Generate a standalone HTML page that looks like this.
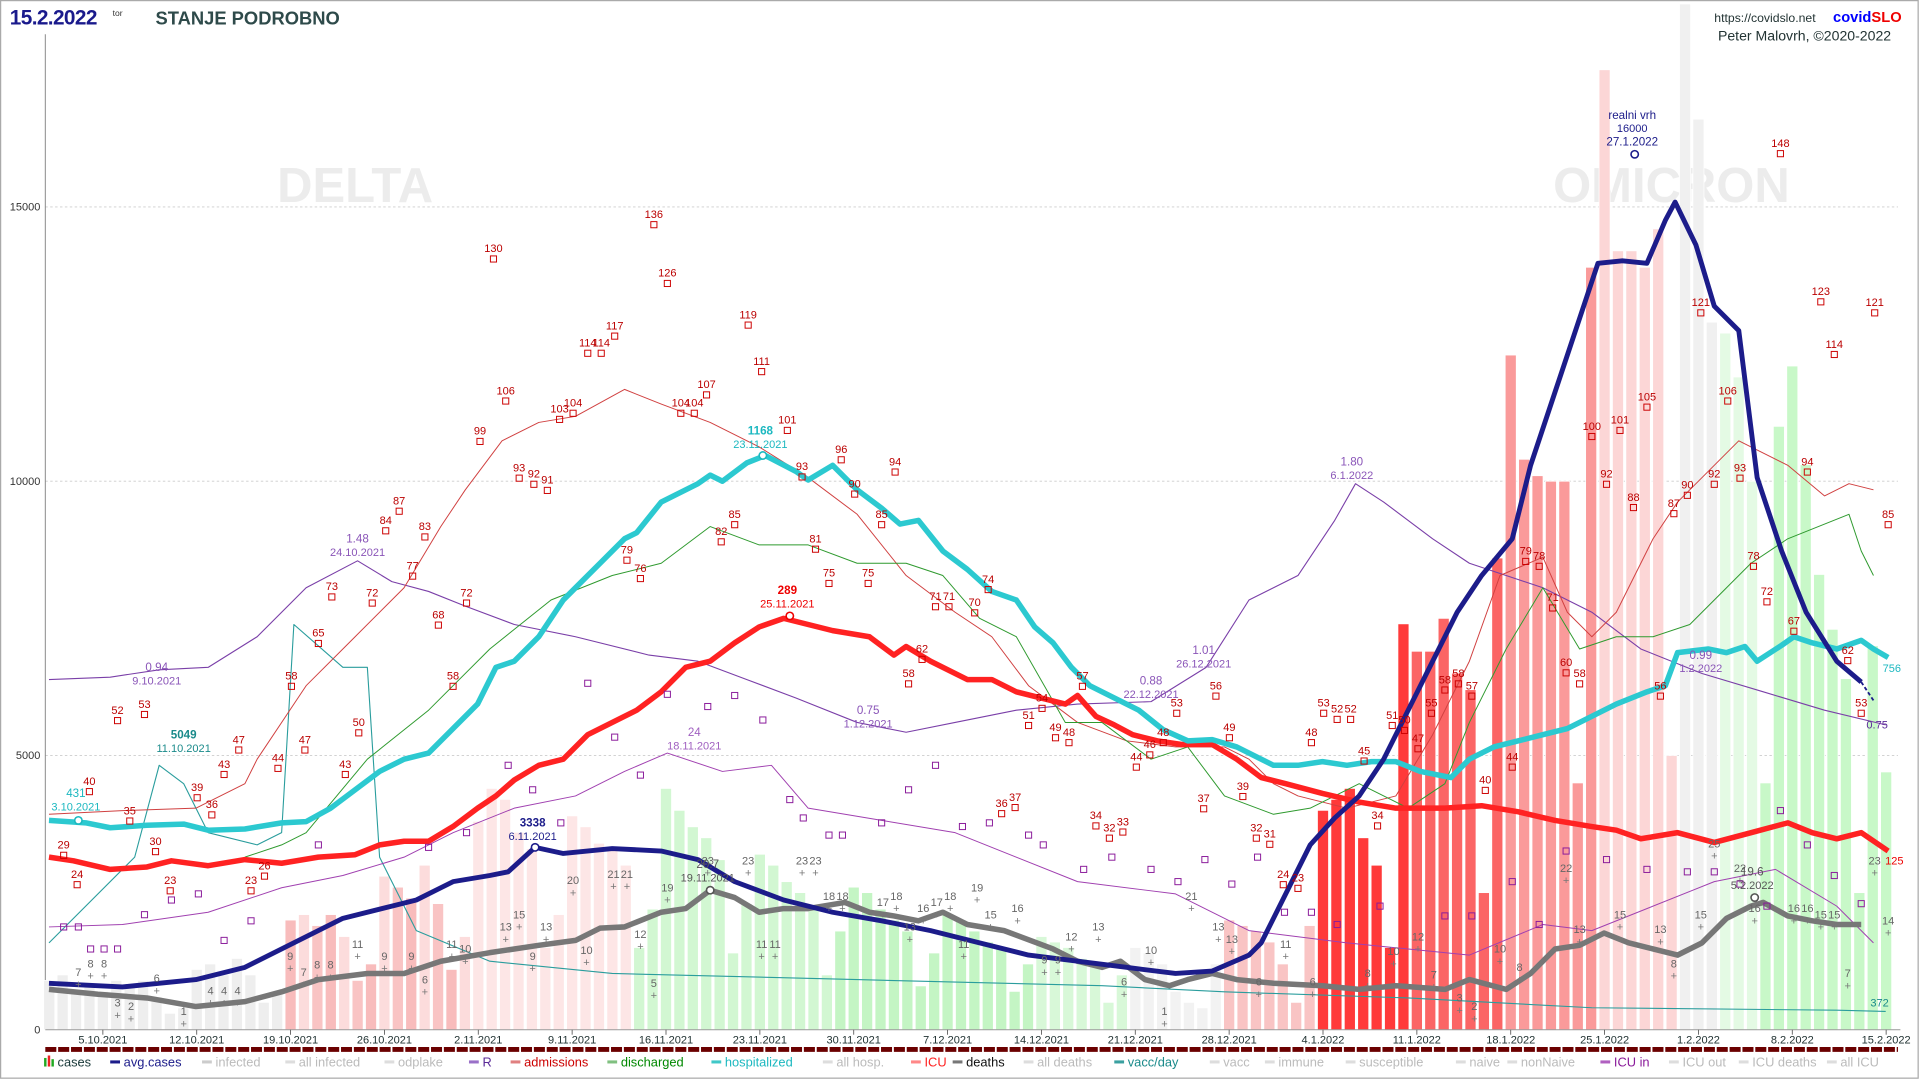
<!DOCTYPE html>
<html><head><meta charset="utf-8"><style>
html,body{margin:0;padding:0;background:#fff;width:1920px;height:1080px;overflow:hidden}
svg{display:block}
text{font-family:"Liberation Sans",sans-serif}
</style></head><body>
<svg id="c" width="1920" height="1080" viewBox="0 0 1568 882" preserveAspectRatio="none" xmlns="http://www.w3.org/2000/svg">
<rect x="0.5" y="0.5" width="1566" height="880" fill="#fff" stroke="#aaa"/>
<text x="290" y="165" font-size="40" font-weight="bold" fill="#ececec" text-anchor="middle">DELTA</text>
<text x="1365" y="165" font-size="40" font-weight="bold" fill="#ececec" text-anchor="middle">OMICRON</text>
<g id="grid" stroke="#ccc" stroke-dasharray="2,2" stroke-width="0.7">
<line x1="37" y1="169" x2="1550" y2="169"/><line x1="37" y1="393" x2="1550" y2="393"/><line x1="37" y1="617" x2="1550" y2="617"/>
</g>
<g font-size="9" fill="#333" text-anchor="end">
<text x="33" y="172">15000</text><text x="33" y="396">10000</text><text x="33" y="620">5000</text><text x="33" y="844">0</text>
</g>
<line x1="37" y1="28" x2="37" y2="841" stroke="#888" stroke-width="0.8"/>
<g id="bars"></g>
<g id="lines"></g>
<g id="marks"></g>
<line x1="37" y1="841" x2="1552" y2="841" stroke="#999" stroke-width="0.8"/>
<g id="dates" font-size="9" fill="#233" text-anchor="middle"></g>
<line x1="37" y1="857" x2="1550" y2="857" stroke="#6b0000" stroke-width="4" stroke-dasharray="9,1.5"/>
<g id="legend" font-size="10.5"></g>
<text x="8" y="20" font-size="17" font-weight="bold" fill="#1a1a8c" letter-spacing="-0.5">15.2.2022</text>
<text x="92" y="13" font-size="7" fill="#333">tor</text>
<text x="127" y="20" font-size="15" font-weight="bold" fill="#2e4a4a">STANJE PODROBNO</text>
<text x="1400" y="18" font-size="10" fill="#233">https://covidslo.net</text>
<text x="1497" y="18" font-size="12" font-weight="bold" fill="#00f">covid<tspan fill="#e00">SLO</tspan></text>
<text x="1403" y="33" font-size="11.5" fill="#233">Peter Malovrh, ©2020-2022</text>
</svg>
<script>
const NS="http://www.w3.org/2000/svg";
function el(p,t,a,txt){const e=document.createElementNS(NS,t);for(const k in a)e.setAttribute(k,a[k]);if(txt!==undefined)e.textContent=txt;document.getElementById(p).appendChild(e);return e;}
const X=d=>84+d*10.95, Y=c=>841-c*0.0448;
const cases=[900,1000,700,800, 700,900,800,900,600,300,400, 1100,1200,1000,1300,1000,500,700, 2000,2100,1900,2100,1700,900,1200, 2800,2600,2400,3000,2300,1100,1700, 3800,4400,4200,3600,3300,1500,2100, 3900,3700,3400,3300,3000,1500,2200, 4400,4000,3700,3500,3100,1400,2300, 3200,3000,2700,2500,2200,1000,1800, 2600,2500,2200,2000,1800,800,1400, 2100,2000,1800,1600,1500,700,1200, 1700,1600,1500,1300,1200,500,1000, 1500,1400,1200,700,500,400,1200, 2000,1900,1800,1600,1200,500,1900, 4000,4200,4400,3500,3000,1500,7400, 6900,6900,7500,6500,6200,2500,8600, 12300,10400,10100,10000,10000,4500,13900, 17500,14200,14200,13900,14600,5000,18700, 16600,12900,12700,11900,10000,4500,11000, 12100,10300,8300,7300,6400,2500,7000, 4700];
function col(d){
 if(d<14)return"#eeeeee";
 if(d<28)return["#fcdcdc","#f9c4c4","#f8bcbc"][d%3];
 if(d<40)return"#fde6e6";
 if(d<70)return d<55?"#d2f7d2":"#c4f5c4";
 if(d<84)return d<77?"#d8f8d8":"#f2f2f2";
 if(d<91)return"#f9c4c4";
 if(d<98)return"#ff3a3a";
 if(d<105)return"#fb6565";
 if(d<112)return"#fa9a9a";
 if(d<118)return"#fcd6d6";
 if(d<121)return"#f0f0f0";
 if(d<124)return"#e4fae4";
 return"#c8f8c8";}
cases.forEach((c,i)=>{const d=i-4;const y=Y(c);el("bars","rect",{x:X(d)-4.5,y:Math.max(y,0),width:9,height:841-Math.max(y,0),fill:col(d),stroke:"#fff","stroke-width":0.6});});
function line(pts,stroke,w,extra){let s="";for(let i=0;i<pts.length;i+=2)s+=(i?"L":"M")+pts[i+1]+","+pts[i];el("lines","path",Object.assign({d:s,fill:"none",stroke:stroke,"stroke-width":w,"stroke-linejoin":"round"},extra||{}));}
function L(arr,stroke,w,extra){const p=[];for(let i=0;i<arr.length;i+=2){p.push(arr[i],arr[i+1]);}line(p,stroke,w,extra);}
L([770,40,700,110,625,130,640,150,680,170,690,210,680,230,510,240,545,280,545,300,700,310,760,340,785,400,795,500,800,700,805,900,810,1000,815,1150,823,1300,825,1500,826,1540],"#2a9d9d",0.9);
L([757,40,755,100,745,170,725,230,715,280,700,330,680,370,660,420,650,470,630,510,615,545,630,590,625,630,660,660,670,720,680,780,700,830,720,880,730,960,760,1020,770,1100,780,1200,755,1260,760,1300,720,1400,710,1450,740,1500,770,1530],"#a040b0",0.8);
L([555,40,553,90,547,130,545,170,520,210,480,250,458,292,475,320,483,350,495,380,510,420,520,470,535,530,540,570,555,610,570,650,590,700,598,740,590,780,580,830,575,880,573,940,545,985,490,1020,470,1060,425,1090,395,1107,410,1130,440,1170,460,1200,480,1260,500,1300,530,1340,550,1390,565,1440,580,1490,592,1540],"#7a3fa8",0.9);
L([665,40,662,100,660,160,640,200,620,210,560,250,520,290,480,330,430,360,400,380,360,410,345,440,340,470,318,510,330,540,345,580,365,620,390,660,420,700,470,740,500,780,520,810,560,840,590,880,605,920,610,960,610,1000,620,1020,640,1040,650,1060,660,1100,650,1140,600,1170,540,1200,470,1225,455,1260,500,1280,520,1300,500,1320,440,1350,410,1370,390,1390,360,1420,380,1460,405,1490,395,1510,400,1530],"#d04040",0.8);
L([700,200,690,230,680,250,620,300,580,350,530,400,490,450,470,500,460,540,430,580,445,620,445,660,460,700,460,740,470,770,505,800,520,830,590,870,590,900,620,940,610,970,650,1000,665,1040,660,1070,640,1110,660,1150,640,1180,590,1200,530,1230,480,1260,530,1290,520,1320,520,1350,510,1380,480,1410,460,1430,440,1460,420,1510,450,1520,470,1530],"#2f9a2f",0.8);
L([808,40,812,80,815,120,822,160,818,200,810,230,800,260,795,300,795,330,785,360,778,400,772,440,768,470,758,490,757,510,745,540,742,560,727,580,733,600,745,620,742,640,742,660,737,690,745,710,748,730,752,750,745,770,755,790,760,820,775,860,785,880,790,900,785,915,800,935,805,955,800,970,795,990,800,1010,803,1040,805,1080,808,1110,805,1140,808,1180,800,1200,808,1230,795,1250,775,1270,772,1290,762,1310,770,1330,775,1350,780,1370,770,1390,750,1410,740,1430,737,1440,748,1460,752,1480,755,1500,755,1520],"#777",4.5);
L([700,40,703,60,710,90,708,120,703,140,707,170,702,200,705,230,700,260,698,290,690,310,687,330,687,350,675,370,660,390,650,405,637,420,625,440,620,460,600,480,590,500,580,520,565,540,545,560,540,580,525,600,512,620,505,640,510,660,515,680,520,710,535,730,528,740,540,760,555,790,555,810,565,830,570,850,575,870,568,880,585,895,592,910,600,925,605,945,608,965,608,990,620,1010,635,1030,640,1050,648,1080,655,1110,660,1140,660,1180,658,1210,663,1240,670,1270,675,1300,678,1320,685,1340,680,1370,688,1400,680,1430,672,1460,680,1480,685,1500,680,1520,695,1542],"#f22",4.5);
L([670,40,672,70,676,90,674,120,673,150,678,170,677,200,672,230,671,250,660,270,645,290,630,310,620,330,615,350,595,370,575,390,545,405,540,420,520,440,490,460,480,470,460,490,440,510,435,520,410,540,400,560,395,570,388,580,393,590,378,610,372,625,385,650,392,660,380,680,400,700,415,720,428,735,425,750,450,770,465,790,483,810,490,830,512,845,525,860,545,875,560,890,570,910,580,930,596,950,605,970,604,990,610,1010,625,1040,625,1060,622,1080,625,1100,622,1120,622,1140,630,1160,635,1185,620,1200,610,1220,605,1240,600,1260,595,1280,585,1300,575,1320,565,1345,560,1360,533,1370,530,1395,533,1410,528,1425,540,1435,527,1455,520,1465,525,1480,530,1500,523,1520,530,1530,537,1542],"#2cc9d0",4.5);
L([803,40,806,100,800,160,790,200,770,240,750,280,740,320,735,340,720,370,715,400,712,415,692,437,697,460,693,500,695,540,702,570,720,600,735,640,745,680,752,720,760,760,770,800,780,840,785,880,790,920,795,960,793,990,780,1020,770,1030,730,1050,690,1070,668,1090,650,1110,620,1130,580,1150,540,1170,500,1190,470,1210,440,1235,380,1250,320,1270,260,1290,215,1305,213,1325,215,1345,180,1360,165,1368,200,1385,250,1400,270,1420,390,1435,450,1455,500,1475,540,1500,557,1520],"#1c1c8a",4);
L([557,1520,572,1530],"#1c1c8a",1.5,{"stroke-dasharray":"3,2"});
const adm=[[52,693,"29"],[63,717,"24"],[73,641,"40"],[96,583,"52"],[118,578,"53"],[106,665,"35"],[127,690,"30"],[139,722,"23"],[161,646,"39"],[173,660,"36"],[183,627,"43"],[195,607,"47"],[205,722,"23"],[216,710,"26"],[227,622,"44"],[238,555,"58"],[249,607,"47"],[260,520,"65"],[271,482,"73"],[282,627,"43"],[293,593,"50"],[304,487,"72"],[315,428,"84"],[326,412,"87"],[337,465,"77"],[347,433,"83"],[358,505,"68"],[370,555,"58"],[381,487,"72"],[392,355,"99"],[403,206,"130"],[413,322,"106"],[424,385,"93"],[436,390,"92"],[447,395,"91"],[457,337,"103"],[468,332,"104"],[480,283,"114"],[491,283,"114"],[502,269,"117"],[512,452,"79"],[523,467,"76"],[534,178,"136"],[545,226,"126"],[556,332,"104"],[567,332,"104"],[577,317,"107"],[589,437,"82"],[600,423,"85"],[611,260,"119"],[622,298,"111"],[643,346,"101"],[655,384,"93"],[666,443,"81"],[677,471,"75"],[687,370,"96"],[698,398,"90"],[709,471,"75"],[720,423,"85"],[731,380,"94"],[742,553,"58"],[753,533,"62"],[764,490,"71"],[775,490,"71"],[796,495,"70"],[807,476,"74"],[818,659,"36"],[829,654,"37"],[840,587,"51"],[851,573,"54"],[862,597,"49"],[873,601,"48"],[884,555,"57"],[895,669,"34"],[906,679,"32"],[917,674,"33"],[928,621,"44"],[939,611,"46"],[950,601,"48"],[961,577,"53"],[993,563,"56"],[1004,597,"49"],[1015,645,"39"],[983,655,"37"],[1026,679,"32"],[1037,684,"31"],[1048,717,"24"],[1060,720,"23"],[1071,601,"48"],[1081,577,"53"],[1092,582,"52"],[1103,582,"52"],[1114,616,"45"],[1125,669,"34"],[1137,587,"51"],[1147,591,"50"],[1158,606,"47"],[1169,577,"55"],[1180,558,"58"],[1191,553,"58"],[1202,563,"57"],[1213,640,"40"],[1235,621,"44"],[1246,453,"79"],[1257,457,"78"],[1268,491,"71"],[1279,544,"60"],[1290,553,"58"],[1300,351,"100"],[1312,390,"92"],[1323,346,"101"],[1334,409,"88"],[1345,327,"105"],[1356,563,"56"],[1367,414,"87"],[1378,399,"90"],[1389,250,"121"],[1400,390,"92"],[1411,322,"106"],[1421,385,"93"],[1432,457,"78"],[1443,486,"72"],[1454,120,"148"],[1465,510,"67"],[1476,380,"94"],[1487,241,"123"],[1498,284,"114"],[1509,534,"62"],[1520,577,"53"],[1531,250,"121"],[1542,423,"85"]];
adm.forEach(a=>{el("marks","rect",{x:a[0]-2.5,y:a[1]+3,width:5,height:5,fill:"none",stroke:"#c00","stroke-width":0.8});el("marks","text",{x:a[0],y:a[1],"font-size":9,fill:"#b00","text-anchor":"middle"},a[2]);});
const dl=[[64,797,"7"],[74,790,"8"],[85,790,"8"],[96,822,"3"],[107,825,"2"],[128,802,"6"],[150,829,"1"],[172,812,"4"],[183,812,"4"],[194,812,"4"],[237,784,"9"],[248,797,"7"],[259,791,"8"],[270,791,"8"],[292,774,"11"],[314,784,"9"],[336,784,"9"],[347,803,"6"],[369,774,"11"],[380,778,"10"],[413,760,"13"],[424,750,"15"],[435,784,"9"],[446,760,"13"],[468,722,"20"],[479,779,"10"],[501,717,"21"],[512,717,"21"],[523,766,"12"],[534,806,"5"],[545,728,"19"],[578,706,"23"],[611,706,"23"],[622,774,"11"],[633,774,"11"],[655,706,"23"],[666,706,"23"],[677,735,"18"],[688,735,"18"],[721,740,"17"],[732,735,"18"],[743,760,"13"],[754,745,"16"],[765,740,"17"],[776,735,"18"],[787,774,"11"],[798,728,"19"],[809,750,"15"],[831,745,"16"],[853,787,"9"],[864,787,"9"],[875,768,"12"],[897,760,"13"],[918,805,"6"],[940,779,"10"],[951,829,"1"],[973,735,"21"],[995,760,"13"],[1006,770,"13"],[1028,805,"6"],[1050,774,"11"],[1072,805,"6"],[1117,798,"8"],[1138,780,"10"],[1158,768,"12"],[1171,799,"7"],[1192,818,"3"],[1204,825,"2"],[1225,778,"10"],[1241,793,"8"],[1279,712,"22"],[1290,762,"13"],[1323,750,"15"],[1356,762,"13"],[1367,790,"8"],[1389,750,"15"],[1400,692,"25"],[1421,712,"22"],[1433,745,"16"],[1465,745,"16"],[1476,745,"16"],[1487,750,"15"],[1498,750,"15"],[1509,798,"7"],[1531,706,"23"],[1542,755,"14"]];
dl.forEach(a=>{el("marks","text",{x:a[0],y:a[1],"font-size":9,fill:"#666","text-anchor":"middle"},a[2]);el("marks","text",{x:a[0],y:a[1]+10,"font-size":9,fill:"#777","text-anchor":"middle"},"+");});
[[52,757],[64,757],[74,775],[85,775],[96,775],[118,747],[140,735],[162,730],[183,768],[205,752],[260,690],[350,692],[381,680],[415,625],[435,645],[458,672],[480,558],[502,602],[523,633],[545,567],[578,577],[600,568],[623,588],[645,653],[656,668],[677,682],[688,682],[720,672],[742,645],[764,625],[786,675],[808,672],[840,682],[852,690],[885,710],[908,700],[940,710],[962,720],[984,702],[1006,722],[1027,700],[1049,745],[1071,745],[1092,755],[1127,740],[1180,748],[1202,748],[1235,720],[1257,755],[1279,695],[1312,702],[1345,710],[1378,712],[1400,712],[1421,722],[1443,740],[1454,662],[1476,690],[1498,715],[1520,738]].forEach(p=>el("marks","rect",{x:p[0]-2.5,y:p[1]-2.5,width:5,height:5,fill:"none",stroke:"#8a1a9a","stroke-width":0.8}));
function ann(x,y1,t1,t2,c,circY,bold){el("marks","text",{x:x,y:y1,"font-size":9.5,fill:c,"text-anchor":"middle","font-weight":bold?"bold":"normal"},t1);if(t2)el("marks","text",{x:x,y:y1+11,"font-size":9,fill:c,"text-anchor":"middle"},t2);if(circY)el("marks","circle",{cx:x+2,cy:circY,r:3,fill:"#fff",stroke:c,"stroke-width":1.3});}
ann(62,651,"431","3.10.2021","#1cb8c0",670);
ann(150,603,"5049","11.10.2021","#1a8a8a",0,true);
ann(128,548,"0.94","9.10.2021","#8a55b8",0);
ann(292,443,"1.48","24.10.2021","#8a55b8",0);
ann(435,675,"3338","6.11.2021","#1c1c8a",692,true);
ann(567,601,"24","18.11.2021","#a060c0",0);
ann(578,709,"20.7","19.11.2021","#555",727);
ann(621,355,"1168","23.11.2021","#1cb8c0",372,true);
ann(643,485,"289","25.11.2021","#e00",503,true);
ann(709,583,"0.75","1.12.2021","#8a55b8",0);
ann(940,559,"0.88","22.12.2021","#8a55b8",0);
ann(983,534,"1.01","26.12.2021","#8a55b8",0);
ann(1104,380,"1.80","6.1.2022","#8a55b8",0);
ann(1333,97,"realni vrh","16000","#1c1c8a",126);
el("marks","text",{x:1333,y:119,"font-size":9.5,fill:"#1c1c8a","text-anchor":"middle"},"27.1.2022");
ann(1389,538,"0.99","1.2.2022","#8a55b8",0);
ann(1431,715,"19.6","5.2.2022","#555",733);
[[1545,549,"756","#1cb8c0"],[1533,595,"0.75","#5a2a98"],[1547,706,"125","#e00"],[1535,822,"372","#1a8a8a"]].forEach(a=>el("marks","text",{x:a[0],y:a[1],"font-size":9,fill:a[3],"text-anchor":"middle"},a[2]));
const dt=["5.10.2021","12.10.2021","19.10.2021","26.10.2021","2.11.2021","9.11.2021","16.11.2021","23.11.2021","30.11.2021","7.12.2021","14.12.2021","21.12.2021","28.12.2021","4.1.2022","11.1.2022","18.1.2022","25.1.2022","1.2.2022","8.2.2022","15.2.2022"];
dt.forEach((t,i)=>{const x=X(i*7);el("dates","line",{x1:x,y1:841,x2:x,y2:845,stroke:"#555","stroke-width":0.7});el("dates","text",{x:x,y:852},t);});
const lg=[["cases","#1a3a3a",null],["avg.cases","#1c1c8a","#1c1c8a"],["infected","#bbb","#ccc"],["all infected","#bbb","#ddd"],["odplake","#bbb","#ddd"],["R","#5a2a98","#9a70c8"],["admissions","#c00","#e08080"],["discharged","#080","#80c080"],["hospitalized","#1cb8c0","#40c8c8"],["all hosp.","#bbb","#ddd"],["ICU","#f22","#f88"],["deaths","#111","#777"],["all deaths","#bbb","#ddd"],["vacc/day","#1a8a8a","#3aa0a0"],["vacc","#bbb","#ddd"],["immune","#bbb","#ddd"],["susceptible","#bbb","#ddd"],["naive","#bbb","#ddd"],["nonNaive","#bbb","#ddd"],["ICU in","#8a1a9a","#b060c0"],["ICU out","#bbb","#ddd"],["ICU deaths","#bbb","#ddd"],["all ICU","#bbb","#ddd"]];
const lx=[36,90,165,233,314,383,417,496,581,672,744,778,836,910,988,1033,1099,1189,1231,1307,1363,1420,1492];
lg.forEach((g,i)=>{const x=lx[i];if(g[2])el("legend","rect",{x:x,y:866,width:8,height:2.5,fill:g[2]});else{el("legend","rect",{x:x,y:864,width:2,height:7,fill:"#2a2"});el("legend","rect",{x:x+3,y:862,width:2,height:9,fill:"#e22"});el("legend","rect",{x:x+6,y:865,width:2,height:6,fill:"#2a2"});}
el("legend","text",{x:x+11,y:871,fill:g[1]},g[0]);});
</script>
</body></html>
